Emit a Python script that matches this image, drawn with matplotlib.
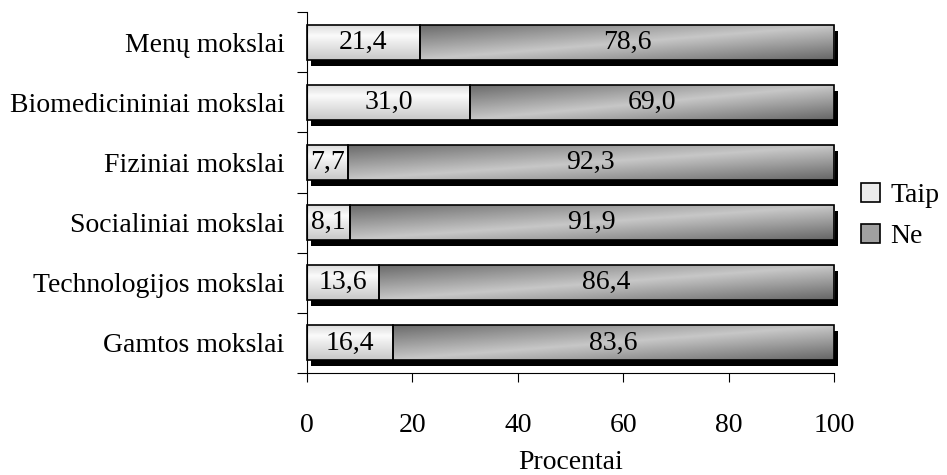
import numpy as np
import matplotlib
matplotlib.use("Agg")
import matplotlib.pyplot as plt
import matplotlib.transforms as mtransforms
from matplotlib.patches import Patch
from matplotlib.colors import LinearSegmentedColormap

plt.rcParams['font.family'] = ['Liberation Serif', 'DejaVu Serif']

# bottom to top, as drawn on the y axis
categories = ["Gamtos mokslai", "Technologijos mokslai", "Socialiniai mokslai",
              "Fiziniai mokslai", "Biomedicininiai mokslai", "Menų mokslai"]
taip = [16.4, 13.6, 8.1, 7.7, 31.0, 21.4]
ne = [83.6, 86.4, 91.9, 92.3, 69.0, 78.6]
series_names = ["Taip", "Ne"]
xticks = [0, 20, 40, 60, 80, 100]

FS = 20
bar_h = 0.58

fig = plt.figure(figsize=(9.47, 4.75), dpi=100)
ax = fig.add_axes([307 / 947, 1 - 373 / 475, 527 / 947, 361 / 475])

grey = LinearSegmentedColormap.from_list("g", ["black", "white"])


def light_fill(n=64):
    t = np.linspace(0, 1, n)
    v = np.interp(t, [0, 0.3, 1], [0.86, 0.98, 0.78])
    return np.tile(v[:, None], (1, 8))


def dark_fill(w=200, h=40):
    xx, yy = np.meshgrid(np.linspace(0, 1, w), np.linspace(0, 1, h))
    u = (xx + yy) / 2
    return np.interp(u, [0, 0.5, 1], [0.42, 0.78, 0.40])


shadow = mtransforms.offset_copy(ax.transData, fig=fig, x=3, y=-4.3, units='points')

y = np.arange(len(categories))
for i in y:
    # drop shadow behind the whole bar
    ax.add_patch(plt.Rectangle((0, i - bar_h / 2), taip[i] + ne[i], bar_h,
                               facecolor='black', edgecolor='none',
                               transform=shadow, zorder=1, clip_on=False))
    segs = [(0, taip[i], light_fill()), (taip[i], ne[i], dark_fill())]
    for left, width, img in segs:
        rect = plt.Rectangle((left, i - bar_h / 2), width, bar_h,
                             facecolor='none', edgecolor='black', lw=1.2,
                             zorder=3, clip_on=False)
        ax.add_patch(rect)
        im = ax.imshow(img, cmap=grey, vmin=0, vmax=1, aspect='auto',
                       extent=(left, left + width, i - bar_h / 2, i + bar_h / 2),
                       interpolation='bilinear', zorder=2)
        im.set_clip_path(rect)
        ax.text(left + width / 2, i, f"{width:.1f}".replace('.', ','),
                ha='center', va='center', fontsize=FS, zorder=4)

ax.set_xlim(0, 100)
ax.set_ylim(-0.5, len(categories) - 0.5)
ax.set_aspect('auto')

ax.set_xticks(xticks)
ax.set_xticklabels([str(v) for v in xticks], fontsize=FS)
ax.tick_params(axis='x', direction='out', length=6.5, width=0.8, pad=22)

ax.set_yticks(y)
ax.set_yticklabels(categories, fontsize=FS)
ax.set_yticks(np.arange(-0.5, len(categories)), minor=True)
ax.tick_params(axis='y', which='major', length=0, pad=16)
ax.tick_params(axis='y', which='minor', direction='out', length=7, width=0.8)

for s in ['top', 'right']:
    ax.spines[s].set_visible(False)
for s in ['left', 'bottom']:
    ax.spines[s].set_linewidth(0.8)

ax.set_xlabel("Procentai", fontsize=FS, labelpad=9)

handles = [Patch(facecolor='#ececec', edgecolor='black', lw=1.2),
           Patch(facecolor='#a0a0a0', edgecolor='black', lw=1.2)]
fig.legend(handles, series_names, loc='center left',
           bbox_to_anchor=(861 / 947, 1 - 216 / 475), frameon=False,
           fontsize=FS, handlelength=0.7, handleheight=0.7,
           handletextpad=0.35, labelspacing=0.55, borderpad=0, borderaxespad=0)

fig.savefig("out.png", dpi=100)
